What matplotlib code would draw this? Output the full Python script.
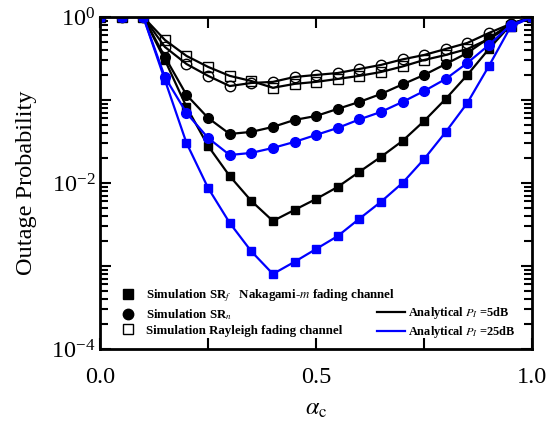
import matplotlib
matplotlib.use('Agg')
import matplotlib.pyplot as plt
from matplotlib.lines import Line2D
from matplotlib.ticker import LogLocator, FuncFormatter, NullFormatter
import numpy as np

plt.rcParams['font.family'] = ['Liberation Serif', 'DejaVu Serif']
plt.rcParams['mathtext.fontset'] = 'stix'

alpha_c = [0.0, 0.05, 0.1, 0.15, 0.2, 0.25, 0.3, 0.35, 0.4, 0.45, 0.5,
           0.55, 0.6, 0.65, 0.7, 0.75, 0.8, 0.85, 0.9, 0.95, 1.0]

# Nakagami-m, SR_f
srf_5db = [1, 1, 1, 0.303, 0.0824, 0.0279, 0.0121, 0.00607, 0.00348, 0.00473, 0.00641,
           0.00895, 0.0136, 0.0206, 0.0321, 0.0558, 0.103, 0.2, 0.412, 0.8, 1]
srf_25db = [1, 1, 1, 0.174, 0.0303, 0.0087, 0.0033, 0.0015, 0.0008, 0.00112, 0.0016,
            0.00229, 0.0037, 0.00592, 0.01, 0.0194, 0.0411, 0.092, 0.257, 0.76, 1]
# Nakagami-m, SR_n
srn_5db = [1, 1, 1, 0.33, 0.115, 0.0607, 0.0389, 0.0412, 0.0473, 0.0574, 0.0641,
           0.078, 0.0946, 0.118, 0.154, 0.2, 0.271, 0.368, 0.558, 0.824, 1]
srn_25db = [1, 1, 1, 0.189, 0.0697, 0.0348, 0.0217, 0.023, 0.0264, 0.0312, 0.0379,
            0.046, 0.0582, 0.0717, 0.0946, 0.128, 0.179, 0.279, 0.46, 0.80, 1]
# Rayleigh
ray_sq = [1, 1, 1, 0.528, 0.339, 0.25, 0.195, 0.169, 0.14, 0.156, 0.165,
          0.179, 0.195, 0.217, 0.253, 0.303, 0.348, 0.411, 0.543, 0.78, 1]
ray_circ = [1, 1, 1, 0.435, 0.271, 0.195, 0.147, 0.160, 0.165, 0.189, 0.2,
            0.211, 0.236, 0.264, 0.308, 0.348, 0.411, 0.486, 0.641, 0.824, 1]

fig = plt.figure(figsize=(5.59, 4.34), dpi=100)
ax = fig.add_axes([0.179, 0.196, 0.773, 0.765])

lw = 1.6
ax.plot(alpha_c, ray_sq, '-s', color='k', lw=lw, ms=7, mfc='none', mew=1.0)
ax.plot(alpha_c, ray_circ, '-o', color='k', lw=lw, ms=7.5, mfc='none', mew=1.0)
ax.plot(alpha_c, srn_5db, '-o', color='k', lw=lw, ms=7)
ax.plot(alpha_c, srf_5db, '-s', color='k', lw=lw, ms=6.2)
ax.plot(alpha_c, srn_25db, '-o', color='#0000ff', lw=lw, ms=7)
ax.plot(alpha_c, srf_25db, '-s', color='#0000ff', lw=lw, ms=6.2)

ax.set_yscale('log')
ax.set_xlim(0, 1)
ax.set_ylim(1e-4, 1)

ax.set_xticks([0, 0.25, 0.5, 0.75, 1.0])
ax.set_xticklabels(['0.0', '', '0.5', '', '1.0'])
ax.yaxis.set_major_locator(LogLocator(base=10, numticks=10))
ax.yaxis.set_minor_locator(LogLocator(base=10, subs=np.arange(2, 10), numticks=20))
ax.yaxis.set_minor_formatter(NullFormatter())


def fmt(v, pos):
    e = int(round(np.log10(v)))
    if e % 2 == 0:
        return r'$\mathdefault{10^{%d}}$' % e
    return ''


ax.yaxis.set_major_formatter(FuncFormatter(fmt))

ax.tick_params(which='both', direction='in', top=True, right=True, width=1.5,
               labelsize=17.5)
ax.tick_params(which='major', length=8)
ax.tick_params(which='minor', length=6)
ax.tick_params(axis='x', pad=13)
for s in ax.spines.values():
    s.set_linewidth(2)

ax.set_xlabel(r'$\alpha_{\mathrm{c}}$', fontsize=17.5, labelpad=8)
ax.set_ylabel('Outage Probability', fontsize=17.5, labelpad=10)

sim_handles = [
    Line2D([], [], ls='none', marker='s', color='k', ms=6.5),
    Line2D([], [], ls='none', marker='o', color='k', ms=7.5),
    Line2D([], [], ls='none', marker='s', color='k', ms=6.5, mfc='none', mew=1.0),
]
sim_labels = [r'Simulation SR$_f$   Nakagami-$m$ fading channel',
              r'Simulation SR$_n$',
              'Simulation Rayleigh fading channel']
leg1 = ax.legend(sim_handles, sim_labels, loc='upper left', bbox_to_anchor=(0.046, 0.185),
                 frameon=False, prop={'weight': 'bold', 'size': 9.3},
                 borderpad=0, borderaxespad=0,
                 handlelength=1.2, handletextpad=0.85, labelspacing=0.22)
ax.add_artist(leg1)

ana_handles = [Line2D([], [], color='k', lw=lw), Line2D([], [], color='#0000ff', lw=lw)]
ana_labels = [r'Analytical $P_I$ =5dB', r'Analytical $P_I$ =25dB']
ax.legend(ana_handles, ana_labels, loc='upper left', bbox_to_anchor=(0.641, 0.132),
          frameon=False, prop={'weight': 'bold', 'size': 8.9},
          borderpad=0, borderaxespad=0,
          handlelength=2.25, handletextpad=0.25, labelspacing=0.22)

fig.savefig('out.png', dpi=100)
